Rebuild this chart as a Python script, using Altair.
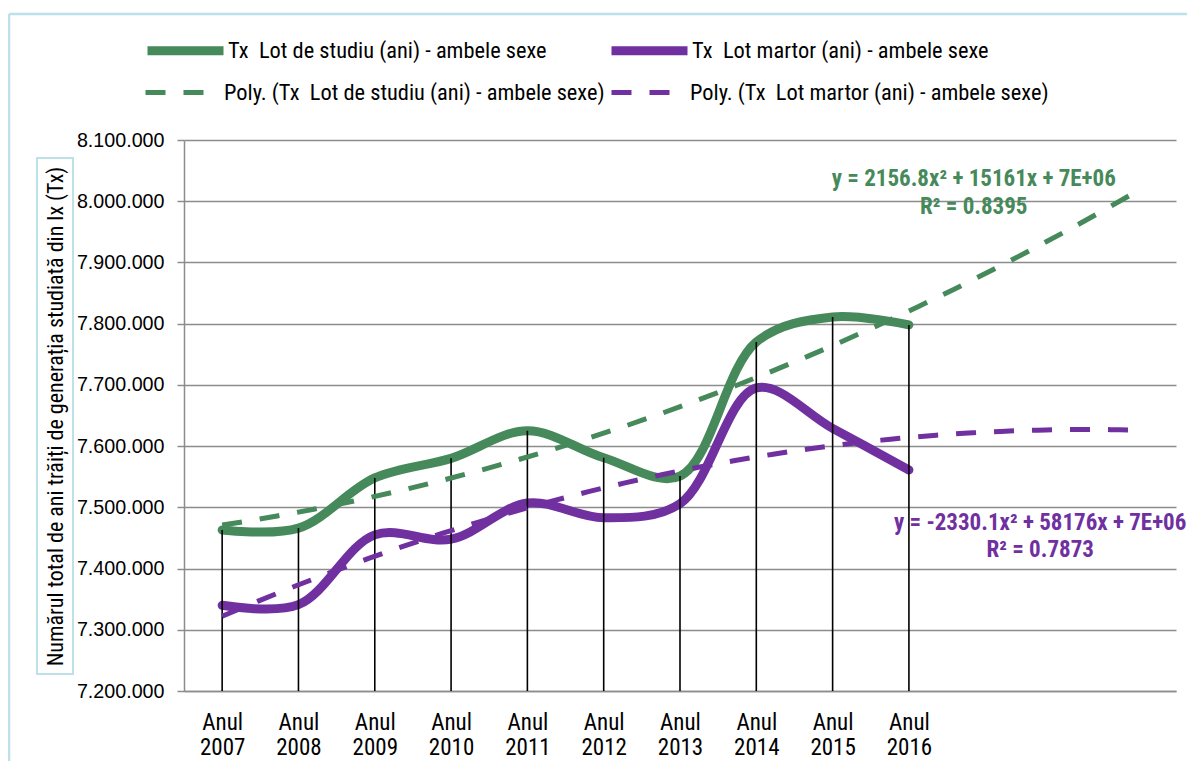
import json
import altair as alt
import pandas as pd

# ---------------- data ----------------
years = ["2007", "2008", "2009", "2010", "2011", "2012", "2013", "2014", "2015", "2016"]
x_index = [1, 2, 3, 4, 5, 6, 7, 8, 9, 10]
lot_studiu = [7463000, 7466000, 7548000, 7580000, 7625000, 7581000, 7551000, 7770000, 7811000, 7798000]
lot_martor = [7340000, 7341000, 7455000, 7448000, 7507000, 7483000, 7506000, 7695000, 7629000, 7561000]
series_names = ["Tx\u00a0 Lot de studiu (ani) - ambele sexe", "Tx\u00a0 Lot martor (ani) - ambele sexe"]
trend_names = ["Poly. (" + n + ")" for n in series_names]
y_ticks = [7200000, 7300000, 7400000, 7500000, 7600000, 7700000, 7800000, 7900000, 8000000, 8100000]
x_labels = [["Anul", y] for y in years]
trend_extent = [1, 13]  # Excel forecast: 3 periods forward

eq_text = ["y = 2156.8x\u00b2 + 15161x + 7E+06", "R\u00b2 = 0.8395",
           "y = -2330.1x\u00b2 + 58176x + 7E+06", "R\u00b2 = 0.7873"]
eq_t = [10.85, 10.85, 11.72, 11.72]
eq_v = [8036800, 7991000, 7474000, 7429500]
eq_series = [0, 0, 1, 1]

# ---------------- styles ----------------
GREEN = "#46895A"
PURPLE = "#7030A0"
GRID = "#8c8c8c"
BORDER = "#BDE1E9"
NARROW = "Roboto Condensed"
REG = "Liberation Sans, Arial, sans-serif"
TREND_DASH = [20, 18]

rows = []
for i, t in enumerate(x_index):
    rows.append({"t": t, "value": lot_studiu[i], "series": series_names[0]})
    rows.append({"t": t, "value": lot_martor[i], "series": series_names[1]})
df = pd.DataFrame(rows)

eq_df = pd.DataFrame({"text": eq_text, "t": eq_t, "value": eq_v,
                      "color": [[GREEN, PURPLE][s] for s in eq_series]})

x_scale = alt.Scale(domain=[0.5, 13.5], nice=False, zero=False)
y_scale = alt.Scale(domain=[7200000, 8100000], nice=False, zero=False)

legend_common = dict(
    orient="none", legendX=-41, direction="horizontal", title=None,
    symbolType="stroke", symbolSize=5776,
    labelFont=NARROW, labelFontSize=22.4, labelColor="black", labelOffset=0,
    labelLimit=0, padding=0,
)
legend_series = alt.Legend(legendY=-132, columnPadding=46, symbolStrokeWidth=9, **legend_common)
legend_trend = alt.Legend(legendY=-88, columnPadding=-4, symbolStrokeWidth=5,
                          symbolDash=TREND_DASH, **legend_common)

x_axis = alt.Axis(
    values=x_index, labelExpr=json.dumps(x_labels) + "[datum.value - 1]",
    grid=False, ticks=False, domainColor=GRID, domainWidth=1.5,
    labelFont=NARROW, labelFontSize=23, labelLineHeight=25, labelPadding=20,
    labelColor="black", labelAngle=0, title=None,
)
y_axis = alt.Axis(
    values=y_ticks, labelExpr="replace(format(datum.value, ','), regexp(',', 'g'), '.')",
    grid=True, gridColor=GRID, gridWidth=1.5, domainColor=GRID, domainWidth=1.5,
    tickColor=GRID, tickSize=7, tickWidth=1.5, labelPadding=13,
    labelFont=REG, labelFontSize=19.7, labelColor="black",
    title="Numărul total de ani trăiți de generația studiată din lx (Tx)",
    titleFont=NARROW, titleFontSize=22, titleFontWeight="normal", titleColor="black",
    titleAngle=270, titleAlign="center", titleBaseline="middle", titleX=-129, titleY=276,
)

base = alt.Chart(df)

data_lines = base.mark_line(interpolate="catmull-rom", strokeCap="round", strokeWidth=9).encode(
    x=alt.X("t:Q", scale=x_scale, axis=x_axis),
    y=alt.Y("value:Q", scale=y_scale, axis=y_axis),
    color=alt.Color("series:N", scale=alt.Scale(domain=series_names, range=[GREEN, PURPLE]),
                    legend=legend_series),
)

trend_lines = base.transform_regression(
    "t", "value", groupby=["series"], method="poly", order=2, extent=trend_extent
).transform_calculate(
    trend="'Poly. (' + datum.series + ')'"
).mark_line(strokeCap="butt", strokeWidth=5, strokeDash=TREND_DASH).encode(
    x=alt.X("t:Q", scale=x_scale),
    y=alt.Y("value:Q", scale=y_scale),
    color=alt.Color("trend:N", scale=alt.Scale(domain=trend_names, range=[GREEN, PURPLE]),
                    legend=legend_trend),
)

drop_lines = base.transform_aggregate(
    top="max(value)", groupby=["t"]
).mark_rule(color="black", strokeWidth=1.6).encode(
    x=alt.X("t:Q", scale=x_scale),
    y=alt.Y("top:Q", scale=y_scale),
    y2=alt.datum(7200000),
)

equations = alt.Chart(eq_df).mark_text(
    font=NARROW, fontSize=23, fontWeight="bold", align="center", baseline="middle"
).encode(
    x=alt.X("t:Q", scale=x_scale),
    y=alt.Y("value:Q", scale=y_scale),
    text="text:N",
    color=alt.Color("color:N", scale=None),
)

deco = alt.Chart(alt.Data(values=[{"k": 1}]))
title_box = deco.mark_rect(fill="transparent", stroke=BORDER, strokeWidth=2).encode(
    x=alt.value(-147), x2=alt.value(-111), y=alt.value(18), y2=alt.value(534)
)
border_top = deco.mark_rule(color=BORDER, strokeWidth=2.5).encode(
    x=alt.value(-175), x2=alt.value(1010), y=alt.value(-126)
)
border_left = deco.mark_rule(color=BORDER, strokeWidth=2.5).encode(
    x=alt.value(-175), y=alt.value(-126), y2=alt.value(640)
)

chart = alt.layer(
    border_top, border_left, title_box, data_lines, drop_lines, trend_lines, equations
).resolve_scale(
    color="independent"
).resolve_legend(
    color="independent"
).properties(
    width=992, height=551,
    autosize=alt.AutoSizeParams(type="none"),
    padding={"left": 176, "top": 132, "right": 11, "bottom": 70},
    background="white",
).configure_view(stroke=None)

chart.save("out.html", embed_options={"renderer": "svg", "actions": False})
